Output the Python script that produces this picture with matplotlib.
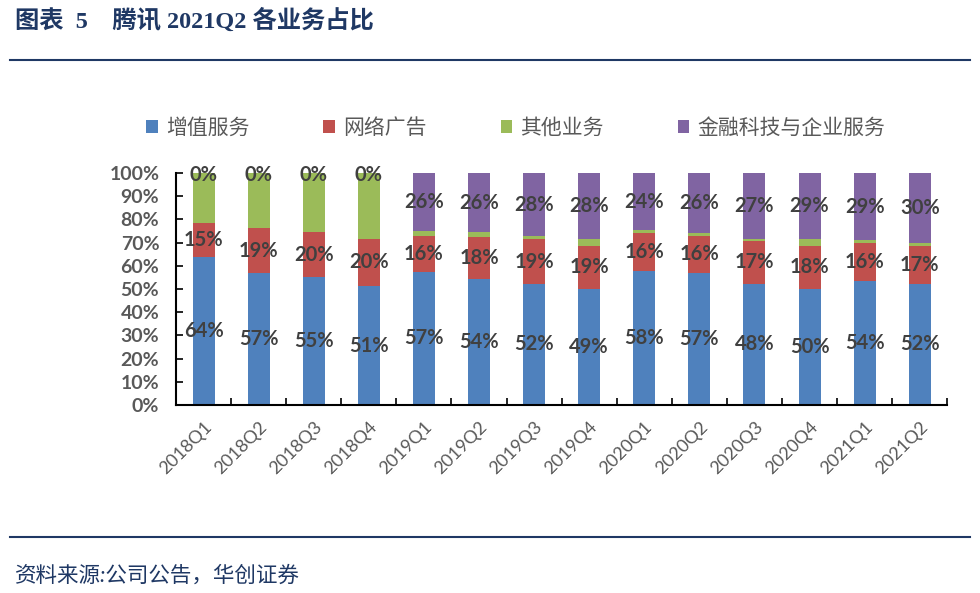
import numpy as np
import matplotlib
matplotlib.use('Agg')
import matplotlib.pyplot as plt
from matplotlib.patches import Patch
from matplotlib.lines import Line2D

quarters = ['2018Q1', '2018Q2', '2018Q3', '2018Q4', '2019Q1', '2019Q2', '2019Q3',
            '2019Q4', '2020Q1', '2020Q2', '2020Q3', '2020Q4', '2021Q1', '2021Q2']
series_names = ['增值服务', '网络广告', '其他业务', '金融科技与企业服务']

# bar heights (%)
vas = [63.9, 57.0, 55.0, 51.3, 57.5, 54.2, 52.2, 49.9, 57.8, 57.0, 52.2, 50.0, 53.4, 52.2]
ads = [14.7, 19.1, 19.7, 20.3, 15.3, 18.4, 19.2, 18.8, 16.5, 15.8, 18.5, 18.7, 16.6, 16.5]
other = [21.4, 23.9, 25.3, 28.4, 2.2, 1.8, 1.3, 3.0, 1.1, 1.5, 1.0, 2.9, 1.1, 1.3]
fintech = [0.0, 0.0, 0.0, 0.0, 25.0, 25.6, 27.3, 28.3, 24.6, 25.7, 28.3, 28.4, 28.9, 30.0]

# data label texts as printed on the chart
vas_lbl = [64, 57, 55, 51, 57, 54, 52, 49, 58, 57, 48, 50, 54, 52]
ads_lbl = [15, 19, 20, 20, 16, 18, 19, 19, 16, 16, 17, 18, 16, 17]
fintech_lbl = [0, 0, 0, 0, 26, 26, 28, 28, 24, 26, 27, 29, 29, 30]

colors = ['#4F81BD', '#C0504D', '#9BBB59', '#8064A2']
navy = '#1F3864'
gray = '#595959'

plt.rcParams['font.family'] = ['Lato', 'Noto Sans CJK SC', 'DejaVu Sans']

fig = plt.figure(figsize=(9.8, 5.93), dpi=100)
ax = fig.add_axes([0.1796, 0.317, 0.787, 0.3912])

x = np.arange(len(quarters))
series = [np.array(vas), np.array(ads), np.array(other), np.array(fintech)]
bottom = np.zeros(len(quarters))
bottoms = []
for vals, c in zip(series, colors):
    ax.bar(x, vals / 100, width=0.4, bottom=bottom / 100, color=c, zorder=2)
    bottoms.append(bottom.copy())
    bottom = bottom + vals

for idx, lbls in [(0, vas_lbl), (1, ads_lbl), (3, fintech_lbl)]:
    for i, t in enumerate(lbls):
        yc = (bottoms[idx][i] + series[idx][i] / 2) / 100
        if idx == 3 and series[idx][i] == 0:
            yc -= 0.01
        ax.text(x[i], yc, f'{t}%', ha='center', va='center', fontsize=14.5,
                fontweight='bold', color='#404040', zorder=3)

ax.set_xlim(-0.5, len(quarters) - 0.5)
ax.set_ylim(0, 1)
ax.set_yticks(np.arange(0, 1.01, 0.1))
ax.set_yticklabels([f'{int(round(v * 100))}%' for v in np.arange(0, 1.01, 0.1)],
                   fontsize=14, fontweight='bold', color=gray)
ax.set_xticks(x)
ax.set_xticklabels(quarters, rotation=45, ha='right', rotation_mode='anchor',
                   fontsize=13, color=gray)
ax.set_xticks(np.arange(-0.5, len(quarters), 1), minor=True)
ax.tick_params(axis='x', which='major', length=0, pad=10)
ax.tick_params(axis='x', which='minor', direction='in', length=5, width=1.2)
ax.tick_params(axis='y', direction='in', length=5, width=1.2, pad=12)
for s in ['top', 'right']:
    ax.spines[s].set_visible(False)
for s in ['left', 'bottom']:
    ax.spines[s].set_linewidth(1.5)

handles = [Patch(facecolor=c, edgecolor='none') for c in colors]
fig.legend(handles, series_names, loc='center left', bbox_to_anchor=(0.130, 0.784),
           ncol=4, frameon=False, fontsize=15, labelcolor=gray,
           handlelength=0.55, handleheight=0.55, handletextpad=0.4, columnspacing=3.55)

fig.text(0.015, 0.965, '图表  5    腾讯 2021Q2 各业务占比', ha='left', va='center',
         fontsize=17.5, fontweight='bold', color=navy,
         family=['Liberation Serif', 'Noto Sans CJK SC'])
fig.add_artist(Line2D([0.01, 0.99], [0.899, 0.899], color=navy, lw=1.5))
fig.add_artist(Line2D([0.01, 0.99], [0.094, 0.094], color=navy, lw=1.5))
fig.text(0.015, 0.03, '资料来源:公司公告，华创证券', ha='left', va='center',
         fontsize=15.5, color=navy, style='italic')

plt.savefig('out.png', dpi=100)
